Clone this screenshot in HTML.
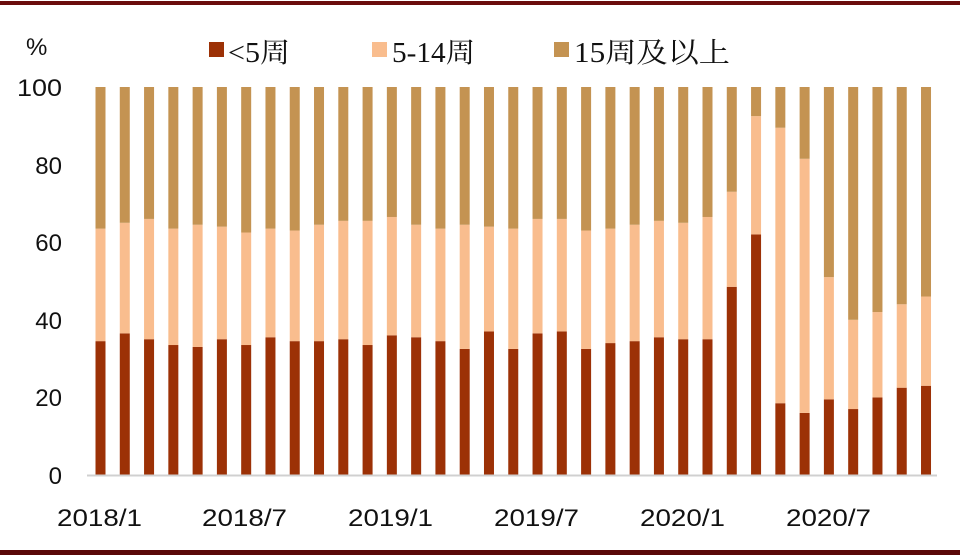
<!DOCTYPE html>
<html><head><meta charset="utf-8"><style>
html,body{margin:0;padding:0;background:#fff;}
svg{display:block;}
text{font-family:"Liberation Sans","Noto Sans CJK SC",sans-serif;fill:#111;}
.s{font-family:"Liberation Serif","Noto Serif CJK SC",serif;}
</style></head><body>
<svg id="c" width="960" height="555" viewBox="0 0 960 555" xmlns="http://www.w3.org/2000/svg">
<rect x="0" y="0" width="960" height="555" fill="#fff"/>
<rect x="0" y="1" width="960" height="4" fill="#6b0d0d"/>
<rect x="0" y="550" width="960" height="5" fill="#5a0808"/>
<text x="26" y="55" font-size="24">%</text>
<rect x="209" y="42" width="15" height="15" fill="#9c3106"/>
<text class="s" x="228" y="62" font-size="28" textLength="62" lengthAdjust="spacingAndGlyphs">&lt;5周</text>
<rect x="372" y="42" width="15" height="15" fill="#f9bd8e"/>
<text class="s" x="392" y="62" font-size="28" textLength="83" lengthAdjust="spacingAndGlyphs">5-14周</text>
<rect x="554" y="42" width="15" height="15" fill="#c49352"/>
<text class="s" x="574" y="62" font-size="28" textLength="156" lengthAdjust="spacingAndGlyphs">15周及以上</text>
<g font-size="24" text-anchor="end">
<text x="62" y="96" textLength="45" lengthAdjust="spacingAndGlyphs">100</text>
<text x="62" y="174">80</text>
<text x="62" y="251">60</text>
<text x="62" y="329">40</text>
<text x="62" y="406">20</text>
<text x="62" y="484">0</text>
</g>
<g id="bars"></g>
<line x1="87" y1="475.5" x2="937" y2="475.5" stroke="#d0d0d0" stroke-width="2"/>
<g font-size="24">
<text x="57" y="526" textLength="85" lengthAdjust="spacingAndGlyphs">2018/1</text>
<text x="202" y="526" textLength="85" lengthAdjust="spacingAndGlyphs">2018/7</text>
<text x="348" y="526" textLength="85" lengthAdjust="spacingAndGlyphs">2019/1</text>
<text x="494" y="526" textLength="85" lengthAdjust="spacingAndGlyphs">2019/7</text>
<text x="640" y="526" textLength="85" lengthAdjust="spacingAndGlyphs">2020/1</text>
<text x="786" y="526" textLength="85" lengthAdjust="spacingAndGlyphs">2020/7</text>
</g>
</svg>
<script>
var d=[[34.5,63.5],[36.5,65],[35,66],[33.5,63.5],[33,64.5],[35,64],[33.5,62.5],[35.5,63.5],[34.5,63],[34.5,64.5],[35,65.5],[33.5,65.5],[36,66.5],[35.5,64.5],[34.5,63.5],[32.5,64.5],[37,64],[32.5,63.5],[36.5,66],[37,66],[32.5,63],[34,63.5],[34.5,64.5],[35.5,65.5],[35,65],[35,66.5],[48.5,73],[62,92.5],[18.5,89.5],[16,81.5],[19.5,51],[17,40],[20,42],[22.5,44],[23,46]];
var g=document.getElementById('bars'),ns='http://www.w3.org/2000/svg';
function r(x,y0,y1,c){var e=document.createElementNS(ns,'rect');e.setAttribute('x',x);e.setAttribute('y',y1);e.setAttribute('width',10);e.setAttribute('height',y0-y1);e.setAttribute('fill',c);g.appendChild(e);}
function Y(v){return 475-v*3.88;}
d.forEach(function(p,i){var x=95.5+i*24.28;
r(x,Y(0),Y(p[0]),'#9c3106');r(x,Y(p[0]),Y(p[1]),'#f9bd8e');r(x,Y(p[1]),Y(100),'#c49352');});
</script>
</body></html>
